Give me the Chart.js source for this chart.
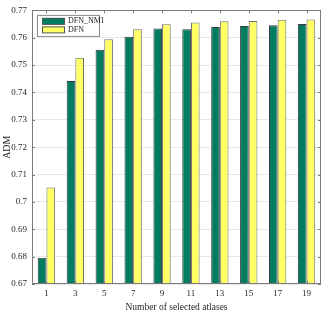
<!DOCTYPE html>
<html>
<head>
<meta charset="utf-8">
<script src="https://cdn.jsdelivr.net/npm/chart.js@4.4.0/dist/chart.umd.min.js"></script>
<style>
  html, body { margin: 0; padding: 0; background: #fff; }
  #wrap { width: 327px; height: 313px; }
</style>
</head>
<body>
<div id="wrap"><canvas id="atlasChart" width="327" height="313"></canvas></div>
<script>
// number of selected atlases
const atlasCounts = ['1', '3', '5', '7', '9', '11', '13', '15', '17', '19'];
// ADM values
const admNmi = [0.6796, 0.7442, 0.7556, 0.7604, 0.7634, 0.7631, 0.7639, 0.7643, 0.7646, 0.7650];
const admDfn = [0.7053, 0.7527, 0.7595, 0.7631, 0.7649, 0.7656, 0.7660, 0.7661, 0.7666, 0.7667];
const yMin = 0.67, yMax = 0.77, yStep = 0.01;

const serif = "'Liberation Serif', 'DejaVu Serif', serif";
const textColor = '#262626';

// MATLAB style box + inward ticks on every side
const boxPlugin = {
  id: 'boxTicks',
  afterDraw(chart) {
    const ctx = chart.ctx;
    const a = chart.chartArea;
    const xs = chart.scales.x, ys = chart.scales.y;
    ctx.save();
    ctx.strokeStyle = '#7a7a7a';
    ctx.lineWidth = 1;
    ctx.beginPath();
    ys.ticks.forEach(t => {
      const py = Math.round(ys.getPixelForValue(t.value)) + 0.5;
      ctx.moveTo(a.left, py); ctx.lineTo(a.left + 3, py);
      ctx.moveTo(a.right, py); ctx.lineTo(a.right - 3, py);
    });
    xs.ticks.forEach((t, i) => {
      const px = Math.round(xs.getPixelForTick(i)) + 0.5;
      ctx.moveTo(px, a.bottom); ctx.lineTo(px, a.bottom - 3);
      ctx.moveTo(px, a.top); ctx.lineTo(px, a.top + 3);
    });
    ctx.stroke();
    ctx.strokeRect(Math.round(a.left) + 0.5, Math.round(a.top) + 0.5,
      Math.round(a.right - a.left) - 1, Math.round(a.bottom - a.top) - 1);

    // legend inside top left
    const lx = a.left + 5, ly = a.top + 4.5;
    ctx.fillStyle = '#fff';
    ctx.fillRect(lx, ly, 62, 21);
    ctx.strokeStyle = '#8a8a8a';
    ctx.strokeRect(lx + 0.5, ly + 0.5, 62, 21);
    ctx.font = '8px ' + serif;
    ctx.textBaseline = 'middle';
    chart.data.datasets.forEach((ds, i) => {
      const sy = ly + 3 + i * 8.5;
      ctx.fillStyle = ds.backgroundColor;
      ctx.fillRect(lx + 5, sy, 23, 6.5);
      ctx.strokeStyle = '#555';
      ctx.strokeRect(lx + 5.5, sy + 0.5, 22, 6);
      ctx.fillStyle = textColor;
      ctx.fillText(ds.label, lx + 31, sy + 3.5);
    });
    ctx.restore();
  }
};

new Chart(document.getElementById('atlasChart'), {
  type: 'bar',
  data: {
    labels: atlasCounts,
    datasets: [{
      label: 'DFN_NMI',
      data: admNmi,
      backgroundColor: '#007d60',
      borderColor: '#3c3c3c',
      borderWidth: 1,
      categoryPercentage: 0.6,
      barPercentage: 1.0
    }, {
      label: 'DFN',
      data: admDfn,
      backgroundColor: '#ffff66',
      borderColor: '#6e6e6e',
      borderWidth: 1,
      categoryPercentage: 0.6,
      barPercentage: 1.0
    }]
  },
  options: {
    responsive: false,
    animation: false,
    layout: { padding: { left: 0, right: 6, top: 9, bottom: 0 } },
    plugins: {
      legend: { display: false },
      tooltip: { enabled: false }
    },
    scales: {
      x: {
        grid: { display: false, drawTicks: false },
        border: { display: false },
        ticks: { color: textColor, font: { family: serif, size: 9 }, padding: 4 },
        title: {
          display: true, text: 'Number of selected atlases', color: textColor,
          font: { family: serif, size: 9.5 }, padding: { top: 0, bottom: 0 }
        },
        afterFit(scale) { scale.height = 29; }
      },
      y: {
        min: yMin, max: yMax,
        grid: { color: '#e8e8e8', drawTicks: false },
        border: { display: false },
        ticks: {
          stepSize: yStep, color: textColor, font: { family: serif, size: 9 }, padding: 5,
          callback: v => parseFloat(v.toFixed(2)).toString()
        },
        title: {
          display: true, text: 'ADM', color: textColor,
          font: { family: serif, size: 10 }, padding: { top: 1, bottom: 0 }
        },
        afterFit(scale) { scale.width = 32; }
      }
    }
  },
  plugins: [boxPlugin]
});
</script>
</body>
</html>
